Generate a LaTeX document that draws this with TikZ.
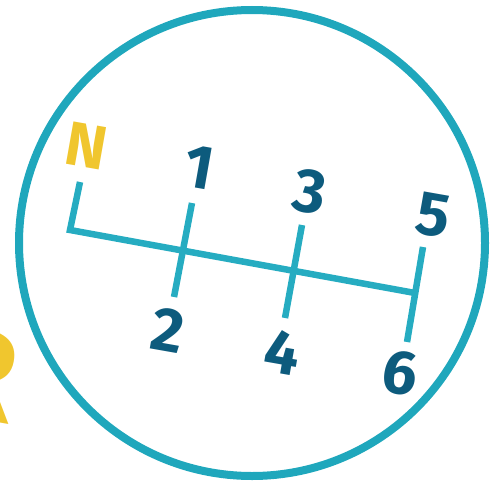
\documentclass[tikz,border=0pt]{standalone}
\usepackage{fontspec}
\setmainfont{Fira Sans}
\definecolor{ring}{HTML}{1FA7BC}
\definecolor{gate}{HTML}{26ACC1}
\definecolor{gear}{HTML}{0D5B7D}
\definecolor{neutral}{HTML}{F0C62E}

\begin{document}
\begin{tikzpicture}[x=1pt,y=-1pt,
  gearlabel/.style={text=gear,font=\fontsize{62}{62}\selectfont\bfseries,rotate=-10,inner sep=0pt},
  gateline/.style={gate,line width=6.5pt}]
\useasboundingbox (0,0) rectangle (498,487);
% knob ring
\draw[ring,line width=8pt] (252,243) circle (233);
% shift gate
\coordinate (ntop) at (80,182);
\coordinate (ncorner) at (70,230);
\coordinate (a1) at (192,203);
\coordinate (a2) at (174,297);
\coordinate (b3) at (302,225);
\coordinate (b4) at (285,318);
\coordinate (c5) at (423,247);
\coordinate (c6) at (407,342);
\coordinate (cmid) at (415,293);
\draw[gateline] (ntop) -- (ncorner) -- (cmid);
\draw[gateline] (a1) -- (a2);
\draw[gateline] (b3) -- (b4);
\draw[gateline] (c5) -- (c6);
% gear numbers
\node[gearlabel,text=neutral] (neut) at (86,146) {N};
\node[gearlabel] (g1) at (199,167) {1};
\node[gearlabel] (g2) at (168,330) {2};
\node[gearlabel] (g3) at (310,192) {3};
\node[gearlabel] (g4) at (282,352) {4};
\node[gearlabel] (g5) at (433,215) {5};
\node[gearlabel] (g6) at (400,373) {6};
% reverse, cut by the edge
\node[text=neutral,font=\fontsize{130}{130}\selectfont\bfseries,rotate=-10,anchor=east,inner sep=0pt] (rev) at (17,380) {R};
\end{tikzpicture}
\end{document}
